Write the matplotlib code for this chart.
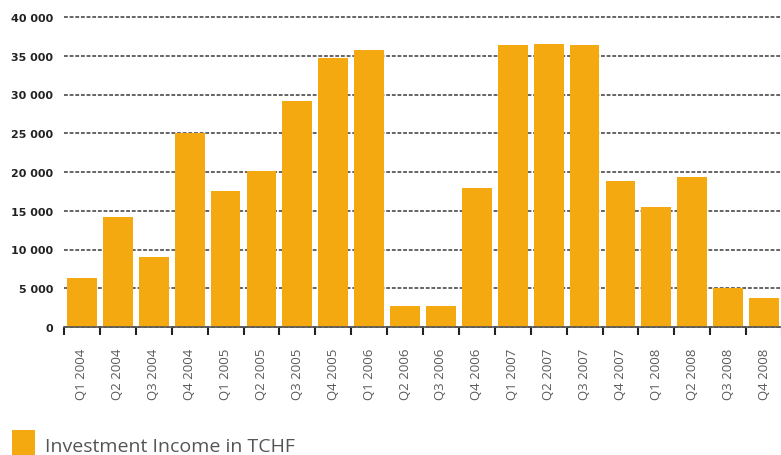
import matplotlib
matplotlib.use("Agg")
import matplotlib.pyplot as plt
from matplotlib.patches import Rectangle
from matplotlib.ticker import FuncFormatter, FixedLocator

# Investment income per quarter (TCHF)
quarters = ["Q1 2004", "Q2 2004", "Q3 2004", "Q4 2004",
            "Q1 2005", "Q2 2005", "Q3 2005", "Q4 2005",
            "Q1 2006", "Q2 2006", "Q3 2006", "Q4 2006",
            "Q1 2007", "Q2 2007", "Q3 2007", "Q4 2007",
            "Q1 2008", "Q2 2008", "Q3 2008", "Q4 2008"]
income = [6300, 14200, 9000, 25000,
          17500, 20100, 29200, 34700,
          35700, 2700, 2750, 18000,
          36400, 36500, 36400, 18900,
          15500, 19400, 5000, 3800]
y_ticks = [0, 5000, 10000, 15000, 20000, 25000, 30000, 35000, 40000]

bar_color = "#F4A910"
grid_color = "#3a3a3a"

fig = plt.figure(figsize=(7.81, 4.56), dpi=100)
ax = fig.add_axes([64 / 781, 128 / 456, 718 / 781, 310 / 456])

x = range(len(quarters))
ax.bar(x, income, width=0.83, color=bar_color, zorder=2)

ax.set_xlim(-0.5, len(quarters) - 0.5)
ax.set_ylim(0, 40000)

# grid
ax.set_yticks(y_ticks)
ax.yaxis.grid(True, color=grid_color, linestyle=(0, (2.5, 1.2)), linewidth=1.1, zorder=1)
for gl in ax.get_ygridlines():
    gl.set_clip_on(False)
ax.yaxis.set_major_formatter(FuncFormatter(lambda v, p: f"{int(v):,}".replace(",", " ")))
ax.tick_params(axis="y", length=0, pad=8, labelsize=8, labelcolor="#222222")
for lbl in ax.get_yticklabels():
    lbl.set_fontweight("bold")

# x axis: labels at bar centres, tick marks at the bar boundaries
ax.set_xticks(list(x))
ax.set_xticklabels(quarters, rotation=90, fontsize=9.5, color="#5a5a5a", family="Open Sans")
ax.tick_params(axis="x", which="major", length=0, pad=15)
ax.xaxis.set_minor_locator(FixedLocator([i - 0.5 for i in range(len(quarters) + 1)]))
ax.tick_params(axis="x", which="minor", length=6, width=1.5, color="#222222", direction="out")

for side in ["top", "right", "left"]:
    ax.spines[side].set_visible(False)
ax.spines["bottom"].set_color("#555555")
ax.spines["bottom"].set_linewidth(1.2)
ax.spines["bottom"].set_zorder(3)

# legend
fig.patches.append(Rectangle((12 / 781, 0), 23 / 781, 25 / 456, transform=fig.transFigure,
                             facecolor=bar_color, edgecolor="none"))
fig.text(45 / 781, 4 / 456, "Investment Income in TCHF", fontsize=14, color="#555555",
         family="Open Sans", va="baseline", ha="left")

fig.savefig("out.png", dpi=100)
